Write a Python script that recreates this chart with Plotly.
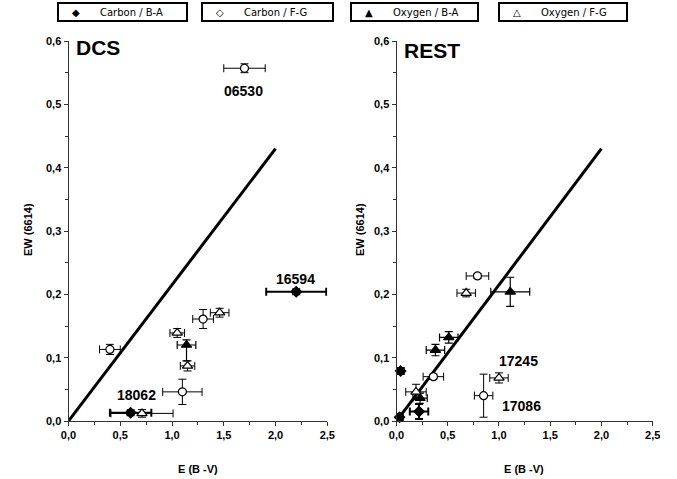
import plotly.graph_objects as go

# ---------------- data ----------------
series_names = ["Carbon / B-A", "Carbon / F-G", "Oxygen / B-A", "Oxygen / F-G"]

# DCS panel
dcs_cba_x = [0.60, 2.20]
dcs_cba_y = [0.013, 0.204]
dcs_cba_xerr = [0.20, 0.29]
dcs_cba_yerr = [0.004, 0.004]

dcs_cfg_x = [0.40, 1.30, 1.10, 1.70]
dcs_cfg_y = [0.113, 0.161, 0.046, 0.557]
dcs_cfg_xerr = [0.10, 0.10, 0.19, 0.20]
dcs_cfg_yerr = [0.008, 0.015, 0.020, 0.007]

dcs_oba_x = [1.14]
dcs_oba_y = [0.120]
dcs_oba_xerr = [0.09]
dcs_oba_yerr_plus = [0.008]
dcs_oba_yerr_minus = [0.025]

dcs_ofg_x = [1.05, 1.46, 1.15, 0.71]
dcs_ofg_y = [0.139, 0.171, 0.087, 0.012]
dcs_ofg_xerr = [0.07, 0.09, 0.07, 0.30]
dcs_ofg_yerr = [0.007, 0.007, 0.008, 0.006]

# REST panel
rest_cba_x = [0.04, 0.22, 0.03]
rest_cba_y = [0.079, 0.015, 0.006]
rest_cba_xerr = [0.03, 0.09, 0.03]
rest_cba_yerr = [0.004, 0.012, 0.005]

rest_cfg_x = [0.79, 0.36, 0.85]
rest_cfg_y = [0.229, 0.070, 0.040]
rest_cfg_xerr = [0.11, 0.10, 0.09]
rest_cfg_yerr = [0.004, 0.004, 0.034]

rest_oba_x = [1.11, 0.51, 0.38, 0.23]
rest_oba_y = [0.204, 0.132, 0.112, 0.036]
rest_oba_xerr = [0.19, 0.09, 0.09, 0.07]
rest_oba_yerr = [0.023, 0.009, 0.009, 0.008]

rest_ofg_x = [0.68, 1.00, 0.19]
rest_ofg_y = [0.202, 0.068, 0.046]
rest_ofg_xerr = [0.09, 0.09, 0.10]
rest_ofg_yerr = [0.006, 0.008, 0.012]

# reference line
line_x = [0.0, 2.0]
line_y = [0.0, 0.43]

panel_titles = ["DCS", "REST"]
x_title = "E (B -V)"
y_title = "EW (6614)"

# ---------------- figure ----------------
W, H = 677, 479
fig = go.Figure()

def px2paper_x(p):
    return p / W

def px2paper_y(p):
    return 1 - p / H

dom_y = [px2paper_y(421), px2paper_y(41)]
dom_x1 = [px2paper_x(68.5), px2paper_x(327.3)]
dom_x2 = [px2paper_x(396.5), px2paper_x(652.7)]

styles = {
    "cba": dict(symbol="diamond", color="black", lc="black", size=8, eth=2),
    "cfg": dict(symbol="circle", color="white", lc="black", size=8, eth=1),
    "oba": dict(symbol="triangle-up", color="black", lc="black", size=9, eth=1.2),
    "ofg": dict(symbol="triangle-up", color="white", lc="black", size=9, eth=1),
}

def add_series(x, y, xerr, yerr, key, xa, ya, yerr_minus=None):
    s = styles[key]
    ey = dict(type="data", array=yerr, color="black", thickness=s["eth"], width=4, visible=True)
    if yerr_minus is not None:
        ey["symmetric"] = False
        ey["arrayminus"] = yerr_minus
    fig.add_trace(go.Scatter(
        x=x, y=y, mode="markers", xaxis=xa, yaxis=ya, showlegend=False,
        marker=dict(symbol=s["symbol"], size=s["size"], color=s["color"],
                    line=dict(color=s["lc"], width=1.2)),
        error_x=dict(type="data", array=xerr, color="black", thickness=s["eth"], width=4, visible=True),
        error_y=ey,
        cliponaxis=False,
    ))

for xa, ya in [("x", "y"), ("x2", "y2")]:
    fig.add_trace(go.Scatter(x=line_x, y=line_y, mode="lines", xaxis=xa, yaxis=ya,
                             line=dict(color="black", width=3), showlegend=False))

add_series(dcs_cba_x, dcs_cba_y, dcs_cba_xerr, dcs_cba_yerr, "cba", "x", "y")
add_series(dcs_cfg_x, dcs_cfg_y, dcs_cfg_xerr, dcs_cfg_yerr, "cfg", "x", "y")
add_series(dcs_oba_x, dcs_oba_y, dcs_oba_xerr, dcs_oba_yerr_plus, "oba", "x", "y", dcs_oba_yerr_minus)
add_series(dcs_ofg_x, dcs_ofg_y, dcs_ofg_xerr, dcs_ofg_yerr, "ofg", "x", "y")

add_series(rest_cba_x, rest_cba_y, rest_cba_xerr, rest_cba_yerr, "cba", "x2", "y2")
add_series(rest_cfg_x, rest_cfg_y, rest_cfg_xerr, rest_cfg_yerr, "cfg", "x2", "y2")
add_series(rest_oba_x, rest_oba_y, rest_oba_xerr, rest_oba_yerr, "oba", "x2", "y2")
add_series(rest_ofg_x, rest_ofg_y, rest_ofg_xerr, rest_ofg_yerr, "ofg", "x2", "y2")

bold = "Liberation Sans, Arial, sans-serif"
tickfont = dict(family=bold, size=11, color="black", weight="bold")

axis_common = dict(showgrid=False, zeroline=False, showline=True, linecolor="#333", linewidth=1,
                   ticks="outside", ticklen=4, tickcolor="#333", tickfont=tickfont, automargin=False)

xaxis_cfg = dict(axis_common, range=[0, 2.5], dtick=0.5, tick0=0, tickformat=".1f",
                 minor=dict(dtick=0.25, ticks="outside", ticklen=3, tickcolor="#333"))
yaxis_cfg = dict(axis_common, range=[0, 0.6], dtick=0.1, tick0=0, tickformat=".1f",
                 minor=dict(dtick=0.05, ticks="outside", ticklen=3, tickcolor="#333"))

fig.update_layout(
    width=W, height=H,
    margin=dict(l=0, r=0, t=0, b=0, pad=0, autoexpand=False),
    paper_bgcolor="white", plot_bgcolor="white",
    separators=",.",
    xaxis=dict(xaxis_cfg, domain=dom_x1, anchor="y"),
    yaxis=dict(yaxis_cfg, domain=dom_y, anchor="x"),
    xaxis2=dict(xaxis_cfg, domain=dom_x2, anchor="y2"),
    yaxis2=dict(yaxis_cfg, domain=dom_y, anchor="x2"),
    showlegend=False,
)

ann = []
# panel titles
ann.append(dict(x=0.05, y=0.589, xref="x", yref="y", text=panel_titles[0], showarrow=False,
                xanchor="left", yanchor="middle",
                font=dict(family=bold, size=21, color="black", weight="bold")))
ann.append(dict(x=0.05, y=0.585, xref="x2", yref="y2", text=panel_titles[1], showarrow=False,
                xanchor="left", yanchor="middle",
                font=dict(family=bold, size=21, color="black", weight="bold")))
# star labels
lblfont = dict(family=bold, size=14, color="black", weight="bold")
for txt, x, y, xr, yr in [("06530", 1.69, 0.521, "x", "y"), ("16594", 2.19, 0.225, "x", "y"),
                          ("18062", 0.66, 0.041, "x", "y"), ("17245", 1.19, 0.095, "x2", "y2"),
                          ("17086", 1.22, 0.024, "x2", "y2")]:
    ann.append(dict(x=x, y=y, xref=xr, yref=yr, text=txt, showarrow=False, font=lblfont,
                    xanchor="center", yanchor="middle"))
# axis titles
atfont = dict(family=bold, size=11, color="black", weight="bold")
for cx in [198, 524]:
    ann.append(dict(x=px2paper_x(cx), y=px2paper_y(469), xref="paper", yref="paper", text=x_title,
                    showarrow=False, font=atfont, xanchor="center", yanchor="middle"))
for cx in [28, 360]:
    ann.append(dict(x=px2paper_x(cx), y=px2paper_y(230), xref="paper", yref="paper", text=y_title,
                    showarrow=False, textangle=-90, font=atfont, xanchor="center", yanchor="middle"))

# legend boxes
legend_boxes = [(58, 187), (202, 333), (351, 478), (499, 627)]
legend_glyphs = ["◆", "◇", "▲", "△"]
shapes = []
legfont = dict(family="DejaVu Sans, sans-serif", size=10, color="black")
for (x0, x1), g, name in zip(legend_boxes, legend_glyphs, series_names):
    shapes.append(dict(type="rect", xref="paper", yref="paper",
                       x0=px2paper_x(x0), x1=px2paper_x(x1),
                       y0=px2paper_y(21), y1=px2paper_y(3),
                       line=dict(color="black", width=2), fillcolor="white", layer="below"))
    ann.append(dict(x=px2paper_x(x0 + 18), y=px2paper_y(12), xref="paper", yref="paper",
                    text=g, showarrow=False, xanchor="center", yanchor="middle",
                    font=dict(family="DejaVu Sans", size=10, color="black")))
    ann.append(dict(x=px2paper_x(x0 + 40), y=px2paper_y(12), xref="paper", yref="paper",
                    text=name, showarrow=False, xanchor="left", yanchor="middle", font=legfont))

fig.update_layout(annotations=ann, shapes=shapes)
fig.write_html("out.html", config={"displayModeBar": False},
               post_script="document.body.style.margin='0';document.body.style.overflow='hidden';")
